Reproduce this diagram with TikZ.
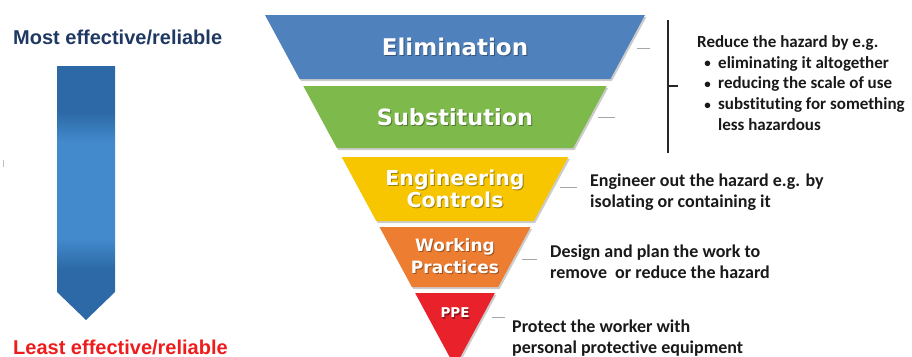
\documentclass[tikz,border=0pt]{standalone}
\usepackage{fontspec}
\setmainfont{Carlito}[Ligatures=NoCommon]
\newfontfamily\shapefont{DejaVu Sans}
\newfontfamily\headfont{Liberation Sans}
\usetikzlibrary{shadows}

\definecolor{elimc}{HTML}{4F81BD}
\definecolor{substc}{HTML}{7DB94B}
\definecolor{engc}{HTML}{F7C600}
\definecolor{workc}{HTML}{ED7D31}
\definecolor{ppec}{HTML}{E8212A}
\definecolor{arrdark}{HTML}{2C69A6}
\definecolor{arrlight}{HTML}{428ACC}
\definecolor{navyc}{HTML}{1F3962}
\definecolor{leastc}{HTML}{EE1C1C}
\definecolor{tickc}{HTML}{A6A6A6}

\pgfdeclareverticalshading{arrowfill}{100bp}{%
  color(0bp)=(arrdark); color(35bp)=(arrdark); color(41bp)=(arrlight);
  color(60bp)=(arrlight); color(66bp)=(arrdark); color(100bp)=(arrdark)}

% half width of the funnel at height y (pixel units, y downwards)
\newcommand\hw[1]{(190-0.54*(#1-15))}
\newcommand\tierfill[3]{%
  \fill[tiershape, fill=#3]
    ({455-\hw{#1}},#1) -- ({455+\hw{#1}},#1) --
    ({455+\hw{#2}},#2) -- ({455-\hw{#2}},#2) -- cycle;}
\newcommand\tierlabel[4]{%
  \node[lblshadow, font=#3] at ([xshift=1pt,yshift=-1.2pt]#2) {#4};
  \node[lbl, font=#3] (#1) at (#2) {#4};}
% list bullet
\newcommand\bul{\makebox[21pt][c]{\raisebox{0.5pt}{\fontsize{13}{13}\selectfont\textbullet}}}

\begin{document}
\begin{tikzpicture}[x=1pt, y=-1pt,
  tiershape/.style={drop shadow={shadow xshift=1.5pt, shadow yshift=-2pt, opacity=0.2, fill=black}},
  lbl/.style={text=white, align=center, inner sep=0pt},
  lblshadow/.style={text=black, opacity=0.35, align=center, inner sep=0pt},
  note/.style={font=\bfseries\fontsize{18}{21.3}\selectfont, align=left, anchor=west, inner sep=0pt, text=black!90},
  leader/.style={draw=tickc, line width=1pt},
  head/.style={font=\headfont\bfseries\fontsize{20}{24}\selectfont, anchor=west, inner sep=0pt}]
\useasboundingbox (0,0) rectangle (912,356);

% effectiveness arrow
\shade[shading=arrowfill] (57,66) -- (115,66) -- (115,292) -- (86,320) -- (57,292) -- cycle;
\node[head, text=navyc] (most) at (13,37) {Most effective/reliable};
\node[head, text=leastc] (least) at (13,347) {Least effective/reliable};
\draw[tickc!70, line width=0.8pt] (3,160) -- (3,167);

% funnel tiers
\tierfill{15}{79}{elimc}
\tierfill{86}{148}{substc}
\tierfill{157}{221}{engc}
\tierfill{227}{287}{workc}
\fill[tiershape, fill=ppec] ({455-\hw{293}},293) -- ({455+\hw{293}},293) -- (455,366.9) -- cycle;

\coordinate (celim) at (455,47);
\coordinate (csubst) at (455,117);
\coordinate (ceng) at (455,189);
\coordinate (cwork) at (455,256);
\coordinate (cppe) at (455,313);
\tierlabel{elim}{celim}{\shapefont\bfseries\fontsize{23}{27}\selectfont}{Elimination}
\tierlabel{subst}{csubst}{\shapefont\bfseries\fontsize{22.4}{27}\selectfont}{Substitution}
\tierlabel{eng}{ceng}{\shapefont\bfseries\fontsize{20.5}{22}\selectfont}{Engineering\\Controls}
\tierlabel{work}{cwork}{\shapefont\bfseries\fontsize{17}{22}\selectfont}{Working\\Practices}
\tierlabel{ppe}{cppe}{\shapefont\bfseries\fontsize{13.5}{16}\selectfont}{PPE}

% short leader dashes
\coordinate (e1) at (637,48);  \coordinate (e2) at (650,48);
\coordinate (s1) at (598,117); \coordinate (s2) at (615,117);
\coordinate (g1) at (560,187); \coordinate (g2) at (577,187);
\coordinate (w1) at (522,259); \coordinate (w2) at (537,259);
\coordinate (p1) at (492,317); \coordinate (p2) at (505,317);
\draw[leader] (e1) -- (e2);
\draw[leader] (s1) -- (s2);
\draw[leader] (g1) -- (g2);
\draw[leader] (w1) -- (w2);
\draw[leader] (p1) -- (p2);

% bracket grouping the first two tiers
\coordinate (bt) at (668,20);
\coordinate (bb) at (668,153);
\coordinate (bm) at (668,86);
\coordinate (bk) at (678,86);
\draw[black!85, line width=1.2pt] (bt) -- (bb);
\draw[black!85, line width=1.2pt] (bm) -- (bk);

% descriptions
\node[note, font=\bfseries\fontsize{17}{20.7}\selectfont] (reduce) at (697,83) {%
  Reduce the hazard by e.g.\\
  \bul eliminating it altogether\\
  \bul reducing the scale of use\\
  \bul substituting for something\\
  \hspace*{21pt}less hazardous};
\node[note] (engtext) at (590,192.5) {Engineer out the hazard e.g. by\\isolating or containing it};
\node[note] (worktext) at (550,262) {Design and plan the work to\\remove~ or reduce the hazard};
\node[note] (ppetext) at (512,338) {Protect the worker with\\personal protective equipment};
\end{tikzpicture}
\end{document}
